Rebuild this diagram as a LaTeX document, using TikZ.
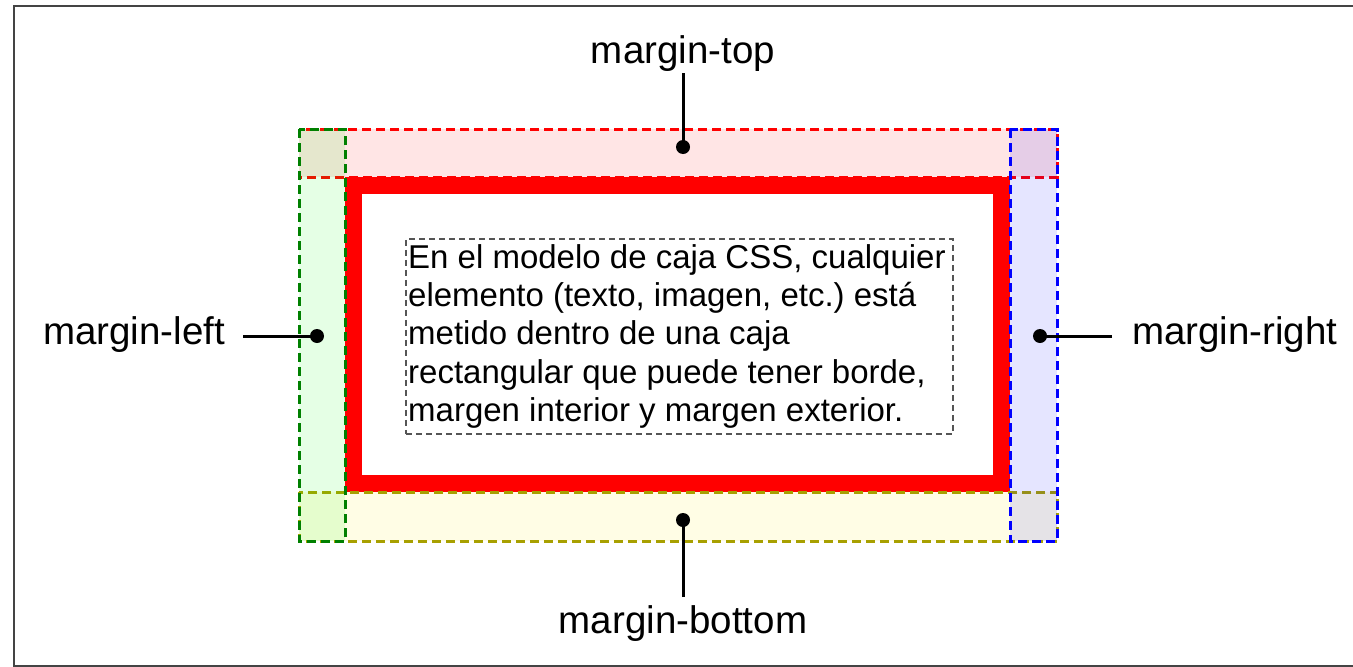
\documentclass[tikz,border=0pt]{standalone}
\usepackage{fontspec}
\setmainfont{Liberation Sans}
\definecolor{framegray}{HTML}{444444}
\definecolor{mgreen}{HTML}{008000}
\definecolor{molive}{HTML}{A8A000}
\definecolor{boxgray}{HTML}{555555}
\tikzset{
  marginbox/.style={line width=3pt, dash pattern=on 9pt off 5pt, fill opacity=0.1},
  mtop/.style={marginbox, draw=red, fill=red},
  mleft/.style={marginbox, draw=mgreen, fill=green},
  mright/.style={marginbox, draw=blue, fill=blue},
  mbottom/.style={marginbox, draw=molive, fill=yellow},
  lbl/.style={font=\fontsize{38.5}{44}\selectfont, outer sep=0pt},
  dot/.style={circle, fill=black, inner sep=0pt, minimum size=14pt},
  conn/.style={line width=3pt, black},
}
\begin{document}
\begin{tikzpicture}[x=1pt,y=-1pt]
\useasboundingbox (0,0) rectangle (1353,667);
\fill[white] (0,0) rectangle (1353,667);
\draw[framegray, line width=2pt] (13.5,5.5) rectangle (1370,666);
% border
\draw[red, line width=17pt] (353.5,185.5) rectangle (1001.5,483.5);
% margins
\path[mtop] (299,129) rectangle (1057,177);
\path[mbottom] (299,492) rectangle (1057,541);
\path[mleft] (299,129) rectangle (345,541);
\path[mright] (1010,129) rectangle (1057,541);
% content box
\node (txtbox) [draw=boxgray, line width=1.6pt, dash pattern=on 6pt off 4pt,
  minimum width=547pt, minimum height=195pt, inner sep=0pt, anchor=north west] at (405,238) {};
\node (txt) [anchor=north west, inner sep=0pt, align=left,
  font=\fontsize{33}{38.3}\selectfont] at (408,244)
  {En el modelo de caja CSS, cualquier\\
   elemento (texto, imagen, etc.)\ está\\
   metido dentro de una caja\\
   rectangular que puede tener borde,\\
   margen interior y margen exterior.};
% dots
\node (dtop) [dot] at (683,147) {};
\node (dbottom) [dot] at (683,520) {};
\node (dleft) [dot] at (317,336) {};
\node (dright) [dot] at (1040,336) {};
% labels
\node (ltop) [lbl, anchor=south, inner xsep=0pt, inner ysep=2pt] at (683,73) {margin-top};
\node (lbottom) [lbl, anchor=north, inner xsep=0pt, inner ysep=9pt] at (683,597) {margin-bottom};
\node (lleft) [lbl, anchor=east, inner xsep=18pt, inner ysep=0pt] at (243,335) {margin-left};
\node (lright) [lbl, anchor=west, inner xsep=20pt, inner ysep=0pt] at (1112,335) {margin-right};
% connectors
\draw[conn] (ltop.south) -- (dtop.center);
\draw[conn] (lbottom.north) -- (dbottom.center);
\draw[conn] (lleft.east |- dleft) -- (dleft.center);
\draw[conn] (lright.west |- dright) -- (dright.center);
\end{tikzpicture}
\end{document}
